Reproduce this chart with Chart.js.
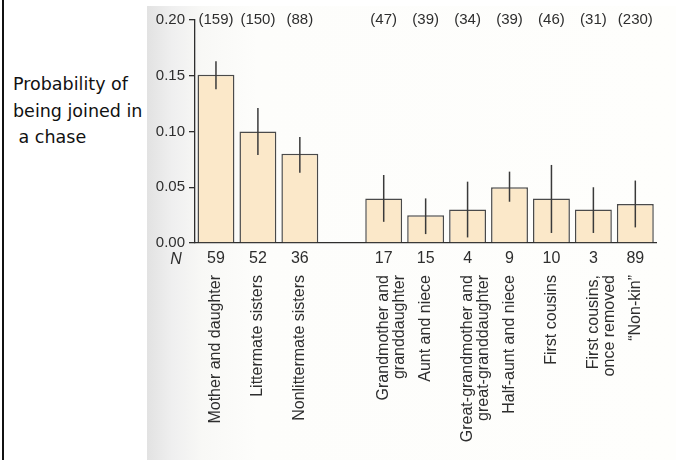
<!DOCTYPE html>
<html>
<head>
<meta charset="utf-8">
<script src="https://cdn.jsdelivr.net/npm/chart.js@4.4.1/dist/chart.umd.min.js"></script>
<style>
  body { margin: 0; background: #fff; }
  #wrap { position: relative; width: 676px; height: 460px; overflow: hidden; }
  #scan {
    position: absolute; left: 147px; top: 6px; right: 0; bottom: 0;
    background: linear-gradient(to right, #e2e2e2 0px, #efefef 25px, #f8f8f6 55px, #fdfdfb 110px, #fefefc 100%);
  }
  #edge { position: absolute; left: 2px; top: 0; width: 2px; height: 460px; background: #111; }
  #ytitle {
    position: absolute; left: 13px; top: 71px; width: 140px;
    font-family: "DejaVu Sans", sans-serif; font-size: 17.5px; line-height: 26.5px; color: #111;
    white-space: pre;
  }
  canvas { position: absolute; left: 0; top: 0; }
</style>
</head>
<body>
<div id="wrap">
  <div id="scan"></div>
  <div id="edge"></div>
  <div id="ytitle">Probability of
being joined in
 a chase</div>
  <canvas id="kinChart" width="676" height="460"></canvas>
</div>
<script>
// kin categories (empty slot = gap between the two groups)
const categories = [
    'Mother and daughter',
    'Littermate sisters',
    'Nonlittermate sisters',
    '',
    ['Grandmother and', 'granddaughter'],
    'Aunt and niece',
    ['Great-grandmother and', 'great-granddaughter'],
    'Half-aunt and niece',
    'First cousins',
    ['First cousins,', 'once removed'],
    '\u201CNon-kin\u201D'
];
const probability = [0.151, 0.100, 0.080, null, 0.040, 0.025, 0.030, 0.050, 0.040, 0.030, 0.035];
const errHigh = [0.163, 0.121, 0.095, null, 0.061, 0.040, 0.055, 0.064, 0.070, 0.050, 0.056];
const errLow = [0.138, 0.079, 0.063, null, 0.019, 0.008, 0.005, 0.037, 0.009, 0.009, 0.014];
const nCounts = ['59', '52', '36', '', '17', '15', '4', '9', '10', '3', '89'];
const chaseCounts = ['(159)', '(150)', '(88)', '', '(47)', '(39)', '(34)', '(39)', '(46)', '(31)', '(230)'];
const yTicks = [0, 0.05, 0.10, 0.15, 0.20];

const inkColor = '#2e2e2e';
const labelFont = '"Liberation Sans", Arial, sans-serif';

// error bars, N row and chase counts, positioned through the scales
const extrasPlugin = {
    id: 'extras',
    afterDatasetsDraw(chart) {
        const ctx = chart.ctx;
        const x = chart.scales.x;
        const y = chart.scales.y;
        ctx.save();
        ctx.strokeStyle = '#3a3a3a';
        ctx.lineWidth = 1.5;
        errHigh.forEach((hi, i) => {
            if (hi === null) return;
            const px = x.getPixelForValue(i);
            ctx.beginPath();
            ctx.moveTo(px, y.getPixelForValue(hi));
            ctx.lineTo(px, y.getPixelForValue(errLow[i]));
            ctx.stroke();
        });

        ctx.fillStyle = inkColor;
        ctx.textAlign = 'center';
        ctx.textBaseline = 'middle';
        ctx.font = '15px ' + labelFont;
        const topY = y.getPixelForValue(0.20);
        chaseCounts.forEach((c, i) => {
            ctx.fillText(c, x.getPixelForValue(i), topY);
        });

        ctx.font = '16px ' + labelFont;
        const nY = y.getPixelForValue(0) + 16;
        nCounts.forEach((n, i) => {
            ctx.fillText(n, x.getPixelForValue(i), nY);
        });
        ctx.font = 'italic 16px ' + labelFont;
        ctx.fillText('N', x.left - 19, nY + 1);
        ctx.restore();
    }
};

new Chart(document.getElementById('kinChart'), {
    type: 'bar',
    data: {
        labels: categories,
        datasets: [{
            data: probability,
            backgroundColor: '#fbe8c9',
            borderColor: '#4a4a4a',
            borderWidth: 1.5,
            barPercentage: 0.88,
            categoryPercentage: 1.0
        }]
    },
    options: {
        responsive: false,
        animation: false,
        layout: { padding: { top: 20, right: 15, left: 0, bottom: 0 } },
        plugins: {
            legend: { display: false },
            tooltip: { enabled: false }
        },
        scales: {
            x: {
                grid: { display: false },
                border: { display: true, color: inkColor, width: 1.3 },
                ticks: {
                    autoSkip: false,
                    minRotation: 90,
                    maxRotation: 90,
                    padding: 24,
                    color: inkColor,
                    font: { family: labelFont, size: 16, lineHeight: 1.0 }
                },
                afterFit(scale) { scale.height = 217; }
            },
            y: {
                min: 0,
                max: 0.20,
                afterBuildTicks(scale) { scale.ticks = yTicks.map(v => ({ value: v })); },
                grid: { drawOnChartArea: false, drawTicks: true, tickLength: 6, color: inkColor, lineWidth: 1.3 },
                border: { display: true, color: inkColor, width: 1.3 },
                ticks: {
                    padding: 4,
                    color: inkColor,
                    font: { family: labelFont, size: 15 },
                    callback: v => v.toFixed(2)
                },
                afterFit(scale) { scale.width = 195; }
            }
        }
    },
    plugins: [extrasPlugin]
});
</script>
</body>
</html>
